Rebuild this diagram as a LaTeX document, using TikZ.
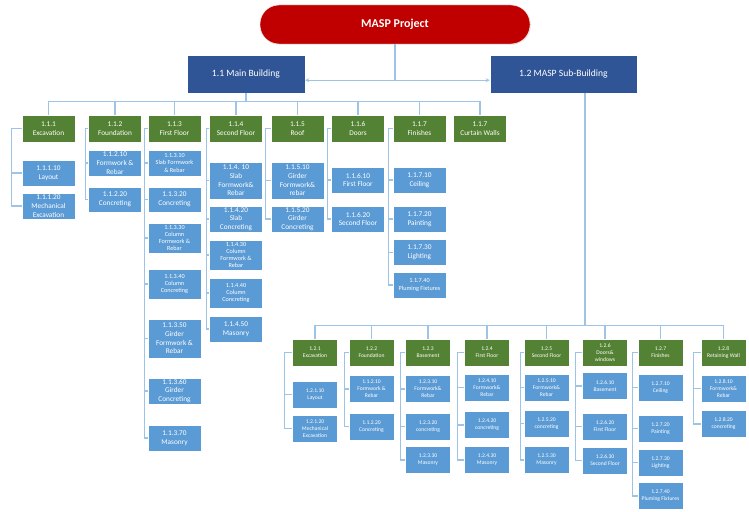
\documentclass[tikz,border=0pt]{standalone}
\usepackage{fontspec}
\setmainfont{Carlito}
\usetikzlibrary{arrows.meta,shadows}
\definecolor{wbsred}{RGB}{192,0,0}
\definecolor{wbsnavy}{RGB}{47,85,151}
\definecolor{wbsgreen}{RGB}{84,130,53}
\definecolor{wbsblue}{RGB}{91,155,213}
\definecolor{wbsline}{RGB}{157,195,230}
\newcommand{\fnorm}{\fontsize{7.3}{8.7}\selectfont}
\newcommand{\fsmall}{\fontsize{6.2}{7.3}\selectfont}
\newcommand{\fsub}{\fontsize{5.6}{6.9}\selectfont}

\begin{document}
\begin{tikzpicture}[x=1pt, y=-1pt,
    box/.style={rectangle, inner sep=0pt, align=center, text=white, draw=white, line width=0.4pt,
        drop shadow={opacity=0.2, shadow xshift=0.8pt, shadow yshift=-0.8pt}},
    root/.style={box, fill=wbsred, rounded corners=19pt, minimum width=270pt, minimum height=39pt,
        font=\fontsize{12}{14}\selectfont\bfseries},
    lvltwo/.style={box, fill=wbsnavy, minimum height=38pt, font=\fontsize{9.6}{11}\selectfont},
    grn/.style={box, fill=wbsgreen, minimum width=53pt, minimum height=27pt, font=\fnorm},
    tsk/.style={box, fill=wbsblue, minimum width=53pt, minimum height=26pt, font=\fnorm},
    tsksm/.style={tsk, font=\fsmall},
    grns/.style={box, fill=wbsgreen, minimum width=45pt, minimum height=27pt, font=\fsub},
    tsks/.style={box, fill=wbsblue, minimum width=45pt, minimum height=27pt, font=\fsub},
    conn/.style={draw=wbsline, line width=1.2pt}]
    \useasboundingbox (0,0) rectangle (749,511);
    %%Project
    \node[root] (masp) at (395,24.5) {MASP Project};
    \node[lvltwo, minimum width=118pt] (mb) at (246,74) {1.1 Main Building};
    \node[lvltwo, minimum width=147pt] (sb) at (563.5,74) {1.2 MASP Sub-Building};
    \draw[conn] (masp.south) -- ++(0,36) coordinate (hub);
    \draw[conn, -{Stealth[length=4pt,width=4pt]}] (hub) -- (hub -| mb.east);
    \draw[conn, -{Stealth[length=4pt,width=4pt]}] (hub) -- (hub -| sb.west);
    %%Main building
    \node[grn] (g111) at (48.5,128.5) {1.1.1\\Excavation};
    \node[grn] (g112) at (115,128.5) {1.1.2\\Foundation};
    \node[grn] (g113) at (174.5,128.5) {1.1.3\\First Floor};
    \node[grn] (g114) at (236,128.5) {1.1.4\\Second Floor};
    \node[grn] (g115) at (297.5,128.5) {1.1.5\\Roof};
    \node[grn] (g116) at (358,128.5) {1.1.6\\Doors};
    \node[grn] (g117) at (419.5,128.5) {1.1.7\\Finishes};
    \node[grn] (g118) at (480,128.5) {1.1.7\\Curtain Walls};
    \draw[conn] (mb.south) -- ++(0,8) coordinate (mbus);
    \draw[conn] (g111.north) |- (mbus -| g118.north) -- (g118.north);
    \foreach \g in {g112,g113,g114,g115,g116,g117}
        \draw[conn] (mbus -| \g.north) -- (\g.north);
    %%1.1.1 - 1.1.2
    \node[tsk] (w111a) at (48.5,173) {1.1.1.10\\Layout};
    \node[tsk] (w111b) at (48.5,206) {1.1.1.20\\Mechanical\\Excavation};
    \node[tsk] (w112a) at (115,163) {1.1.2.10\\Formwork \&\\Rebar};
    \node[tsk, minimum height=25pt] (w112b) at (115,199.5) {1.1.2.20\\Concreting};
    %%1.1.3
    \node[tsksm] (w113a) at (174.5,163) {1.1.3.10\\Slab Formwork\\\& Rebar};
    \node[tsk, minimum height=25pt] (w113b) at (174.5,199.5) {1.1.3.20\\Concreting};
    \node[tsksm, minimum height=30pt] (w113c) at (174.5,238) {1.1.3.30\\Column\\Formwork \&\\Rebar};
    \node[tsksm, minimum height=30pt] (w113d) at (174.5,284) {1.1.3.40\\Column\\Concreting};
    \node[tsk, minimum height=39pt] (w113e) at (174.5,338.5) {1.1.3.50\\Girder\\Formwork \&\\Rebar};
    \node[tsk] (w113f) at (174.5,391) {1.1.3.60\\Girder\\Concreting};
    \node[tsk] (w113g) at (174.5,438) {1.1.3.70\\Masonry};
    %%1.1.4
    \node[tsk, minimum height=37pt] (w114a) at (236,180.5) {1.1.4. 10\\Slab\\Formwork\&\\Rebar};
    \node[tsk] (w114b) at (236,219) {1.1.4.20\\Slab\\Concreting};
    \node[tsksm, minimum height=30pt] (w114c) at (236,255) {1.1.4.30\\Column\\Formwork \&\\Rebar};
    \node[tsksm, minimum height=30pt] (w114d) at (236,293) {1.1.4.40\\Column\\Concreting};
    \node[tsk] (w114e) at (236,329) {1.1.4.50\\Masonry};
    %%1.1.5 - 1.1.7
    \node[tsk, minimum height=37pt] (w115a) at (297.5,180.5) {1.1.5.10\\Girder\\Formwork\&\\rebar};
    \node[tsk] (w115b) at (297.5,219) {1.1.5.20\\Girder\\Concreting};
    \node[tsk] (w116a) at (358,180) {1.1.6.10\\First Floor};
    \node[tsk] (w116b) at (358,219) {1.1.6.20\\Second Floor};
    \node[tsk] (w117a) at (419.5,180) {1.1.7.10\\Ceiling};
    \node[tsk] (w117b) at (419.5,219) {1.1.7.20\\Painting};
    \node[tsk] (w117c) at (419.5,252.5) {1.1.7.30\\Lighting};
    \node[tsksm] (w117d) at (419.5,285) {1.1.7.40\\Pluming Fixtures};
    %%Sub-building
    \node[grns] (g121) at (315,352.5) {1.2.1\\Excavation};
    \node[grns] (g122) at (371.5,352.5) {1.2.2\\Foundation};
    \node[grns] (g123) at (428,352.5) {1.2.3\\Basement};
    \node[grns] (g124) at (487,352.5) {1.2.4\\First Floor};
    \node[grns] (g125) at (546.5,352.5) {1.2.5\\Second Floor};
    \node[grns] (g126) at (605,352.5) {1.2.6\\Doors\&\\windows};
    \node[grns] (g127) at (660.5,352.5) {1.2.7\\Finishes};
    \node[grns] (g128) at (723.5,352.5) {1.2.8\\Retaining Wall};
    \draw[conn] ([xshift=21.5pt]sb.south) -- ++(0,232) coordinate (sbus);
    \draw[conn] (g121.north) |- (sbus -| g128.north) -- (g128.north);
    \foreach \g in {g122,g123,g124,g125,g126,g127}
        \draw[conn] (sbus -| \g.north) -- (\g.north);
    %%1.2.1 - 1.2.4
    \node[tsks] (w121a) at (315,394.5) {1.2.1.10\\Layout};
    \node[tsks] (w121b) at (315,428.5) {1.2.1.20\\Mechanical\\Excavation};
    \node[tsks] (w122a) at (371.5,389) {1.1.2.10\\Formwork \&\\Rebar};
    \node[tsks] (w122b) at (371.5,426.5) {1.1.2.20\\Concreting};
    \node[tsks] (w123a) at (428,389) {1.2.3.10\\Formwork\&\\Rebar};
    \node[tsks] (w123b) at (428,426.5) {1.2.3.20\\concreting};
    \node[tsks] (w123c) at (428,460) {1.2.3.30\\Masonry};
    \node[tsks] (w124a) at (487,387.5) {1.2.4.10\\Formwork\&\\Rebar};
    \node[tsks] (w124b) at (487,425) {1.2.4.20\\concreting};
    \node[tsks] (w124c) at (487,460) {1.2.4.30\\Masonry};
    %%1.2.5 - 1.2.8
    \node[tsks] (w125a) at (546.5,387.5) {1.2.5.10\\Formwork\&\\Rebar};
    \node[tsks] (w125b) at (546.5,423.5) {1.2.5.20\\concreting};
    \node[tsks] (w125c) at (546.5,460) {1.2.5.30\\Masonry};
    \node[tsks] (w126a) at (605,386) {1.2.6.10\\Basement};
    \node[tsks] (w126b) at (605,426.5) {1.2.6.20\\First Floor};
    \node[tsks] (w126c) at (605,460.5) {1.2.6.30\\Second Floor};
    \node[tsks] (w127a) at (660.5,387.5) {1.2.7.10\\Ceiling};
    \node[tsks] (w127b) at (660.5,428.5) {1.2.7.20\\Painting};
    \node[tsks] (w127c) at (660.5,462.5) {1.2.7.30\\Lighting};
    \node[tsks] (w127d) at (660.5,496) {1.2.7.40\\Pluming Fixtures};
    \node[tsks] (w128a) at (723.5,388.5) {1.2.8.10\\Formwork\&\\Rebar};
    \node[tsks] (w128b) at (723.5,424) {1.2.8.20\\concreting};
    %%spines
    \foreach \g/\o/\cs in {g111/10/{w111a,w111b}, g112/3/{w112a,w112b},
        g113/3/{w113a,w113b,w113c,w113d,w113e,w113f,w113g},
        g114/3/{w114a,w114b,w114c,w114d,w114e}, g115/5/{w115a,w115b},
        g116/4/{w116a,w116b}, g117/4/{w117a,w117b,w117c,w117d},
        g121/7.5/{w121a,w121b}, g122/4/{w122a,w122b}, g123/4.5/{w123a,w123b,w123c},
        g124/6.5/{w124a,w124b,w124c}, g125/3/{w125a,w125b,w125c},
        g126/6.5/{w126a,w126b,w126c}, g127/5/{w127a,w127b,w127c,w127d},
        g128/7/{w128a,w128b}}
        \foreach \c in \cs
            \draw[conn] (\g.west) -- ++(-\o,0) |- (\c.west);
\end{tikzpicture}
\end{document}
